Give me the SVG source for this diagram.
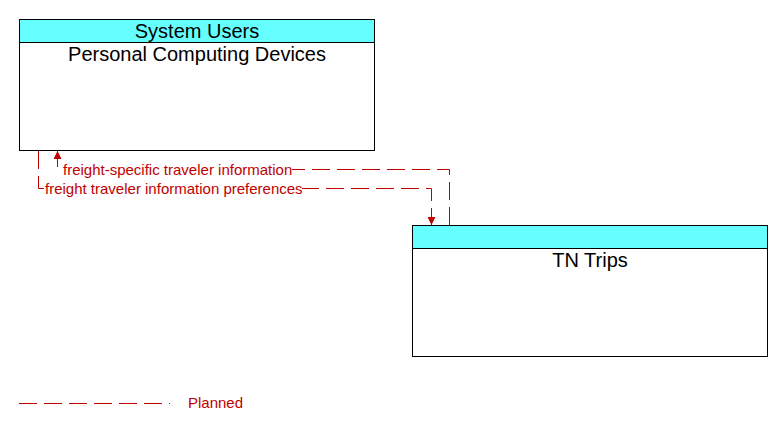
<svg xmlns="http://www.w3.org/2000/svg" width="783" height="431" viewBox="0 0 783 431">
<style>
.box{fill:#fff;stroke:#000;stroke-width:1}
.hdr{fill:#66ffff;stroke:#000;stroke-width:1}
.t{font-family:"Liberation Sans",Arial,sans-serif;font-size:20px;fill:#000;text-anchor:middle}
.fl{fill:none;stroke:#c00000;stroke-width:1;stroke-dasharray:18 7}
.lbl{font-family:"Liberation Sans",Arial,sans-serif;font-size:15px;fill:#c00000}
</style>
<defs>
<marker id="ah" viewBox="0 0 10 10" refX="10" refY="5" markerWidth="8" markerHeight="8" orient="auto" markerUnits="userSpaceOnUse">
<path d="M0,0 L10,5 L0,10 z" fill="#c00000"/>
</marker>
</defs>
<rect width="783" height="431" fill="#fff"/>
<g id="node-pcd">
<rect class="box" x="19.5" y="19.5" width="355" height="131"/>
<rect class="hdr" x="19.5" y="19.5" width="355" height="23"/>
<text class="t" x="197" y="38">System Users</text>
<text class="t" x="197" y="61">Personal Computing Devices</text>
</g>
<g id="node-tn">
<rect class="box" x="412.5" y="225.5" width="355" height="131"/>
<rect class="hdr" x="412.5" y="225.5" width="355" height="23"/>
<text class="t" x="590" y="267">TN Trips</text>
</g>
<g id="connectors">
<path class="fl" d="M449.5,225 L449.5,169.5 L57.5,169.5 L57.5,151" marker-end="url(#ah)"/>
<path class="fl" d="M38.5,151 L38.5,188.5 L431.5,188.5 L431.5,225" marker-end="url(#ah)"/>
<rect x="62" y="161" width="230" height="16" fill="#fff"/>
<text class="lbl" x="63" y="175">freight-specific traveler information</text>
<rect x="44" y="180" width="258" height="16" fill="#fff"/>
<text class="lbl" x="45" y="194">freight traveler information preferences</text>
</g>
<g id="legend">
<line class="fl" x1="19" y1="403.5" x2="170" y2="403.5"/>
<text class="lbl" x="188" y="408">Planned</text>
</g>
</svg>
